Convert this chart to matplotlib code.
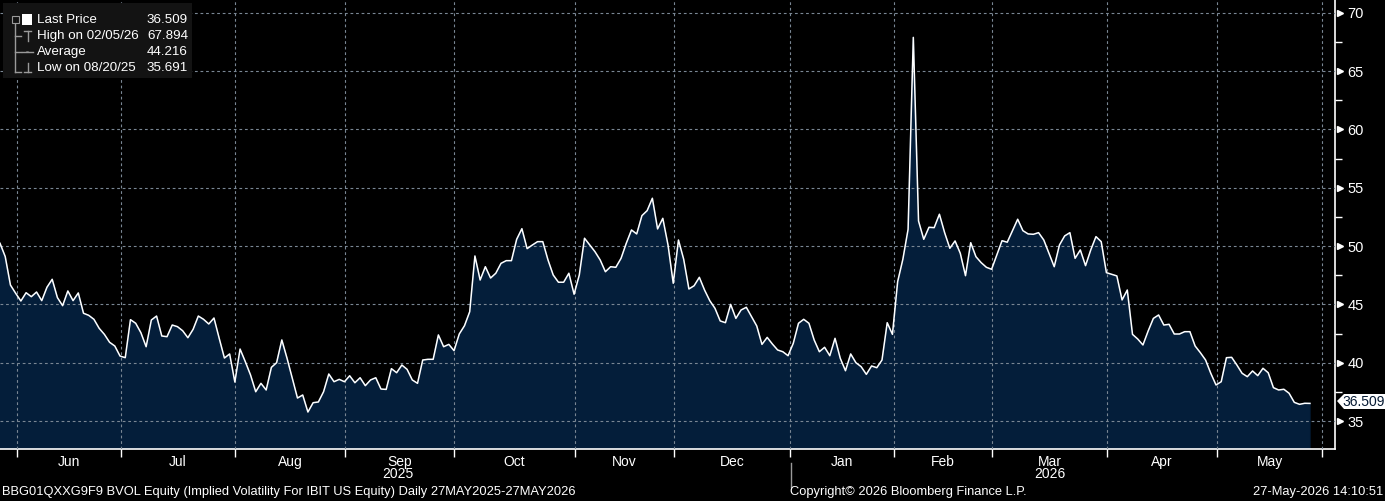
"""
IBIT implied volatility (BVOL) - Bloomberg style area chart
"""
import matplotlib.pyplot as plt
from matplotlib.patches import Rectangle, Polygon, Circle
from matplotlib.lines import Line2D
import matplotlib.transforms as mtransforms
import numpy as np

# daily values, 27 May 2025 -> 27 May 2026
vol = [
    50.24, 49.10, 46.66, 45.95, 45.29, 46.00, 45.66, 46.06, 45.32, 46.47,
    47.15, 45.58, 44.89, 46.15, 45.32, 45.98, 44.24, 44.06, 43.72, 42.95,
    42.43, 41.75, 41.43, 40.57, 40.43, 43.69, 43.38, 42.57, 41.37, 43.66,
    44.00, 42.29, 42.23, 43.23, 43.09, 42.74, 42.14, 42.86, 44.00, 43.72,
    43.32, 43.83, 42.09, 40.40, 40.75, 38.34, 41.17, 40.09, 38.95, 37.51,
    38.23, 37.66, 39.60, 40.00, 41.95, 40.38, 38.66, 36.97, 37.23, 35.77,
    36.57, 36.63, 37.51, 39.03, 38.37, 38.57, 38.37, 38.88, 38.28, 38.71,
    38.03, 38.52, 38.71, 37.74, 37.71, 39.49, 39.14, 39.80, 39.43, 38.52,
    38.23, 40.23, 40.29, 40.29, 42.38, 41.37, 41.57, 41.03,
    42.46, 43.17, 44.37, 49.15, 47.09, 48.23, 47.26, 47.67, 48.52, 48.75,
    48.75, 50.58, 51.49, 49.78, 50.09, 50.38, 50.38, 48.81, 47.52, 46.90,
    46.90, 47.67, 45.87, 47.52, 50.67, 50.09, 49.52, 48.81, 47.80, 48.23,
    48.18, 48.95, 50.24, 51.38, 51.04, 52.61, 53.04, 54.10, 51.47, 52.38,
    50.09, 46.81, 50.52, 48.87, 46.32, 46.60, 47.32, 46.23, 45.32, 44.66,
    43.58, 43.43, 45.00, 43.80, 44.52, 44.75, 43.95, 43.15, 41.57, 42.17,
    41.60, 41.09, 40.94, 40.60, 41.66, 43.38, 43.72, 43.38, 41.95, 40.94,
    41.32, 40.60, 42.09, 40.38, 39.31, 40.75, 40.00,
    39.66, 39.00, 39.72, 39.57, 40.23, 43.43, 42.43, 46.95, 48.87, 51.44,
    67.894, 52.15, 50.58, 51.61, 51.58, 52.73, 51.15, 49.81, 50.44, 49.38,
    47.46, 50.29, 49.09, 48.58, 48.18, 48.01, 49.24, 50.46, 50.33, 51.32,
    52.30, 51.32, 51.04, 51.01, 51.15, 50.52, 49.38, 48.23, 50.09, 50.87,
    51.15, 48.95, 49.67, 48.32, 49.67, 50.81, 50.38, 47.72, 47.58, 47.44,
    45.38, 46.23, 42.43, 42.03, 41.52, 42.72, 43.80, 44.09, 43.23, 43.29,
    42.46, 42.46, 42.66, 42.66, 41.43, 40.86, 40.23, 39.09, 38.09, 38.37,
    40.43, 40.46, 39.80, 39.09, 38.80, 39.29, 38.89, 39.52, 39.14, 37.86,
    37.66, 37.72, 37.38, 36.60, 36.43, 36.52, 36.509,
]
months = ['Jun', 'Jul', 'Aug', 'Sep', 'Oct', 'Nov', 'Dec', 'Jan', 'Feb', 'Mar', 'Apr', 'May']
# month boundaries in trading-day index
month_edges = [3.2, 23.1, 45.0, 66.1, 87.0, 110.2, 129.1, 151.4, 171.3, 190.1, 212.1, 233.2, 253.3]
legend_rows = [
    ('Last Price', '36.509'),
    ('High on 02/05/26', '67.894'),
    ('Average', '44.216'),
    ('Low on 08/20/25', '35.691'),
]
footer_left = 'BBG01QXXG9F9 BVOL Equity (Implied Volatility For IBIT US Equity) Daily 27MAY2025-27MAY2026'
footer_mid = 'Copyright\u00a9 2026 Bloomberg Finance L.P.'
footer_right = '27-May-2026 14:10:51'

C = {'bg': '#000000', 'fill': '#041e3a', 'line': '#ffffff', 'grid': '#7a8794',
     'text': '#ffffff', 'box': '#131313', 'icon': '#9a9a9a'}
W, H = 1385, 501
FONT = ['Liberation Sans', 'DejaVu Sans']

plt.rcParams.update({'font.family': FONT, 'font.size': 9.5, 'text.color': C['text']})

fig = plt.figure(figsize=(W / 100, H / 100), dpi=100, facecolor=C['bg'])
ax = fig.add_axes([0, (H - 449) / H, 1335 / W, 449 / H])
ax.set_facecolor(C['bg'])


def px(x, y):
    return x / W, (H - y) / H


x = np.arange(len(vol))
ax.fill_between(x, vol, 0, color=C['fill'], zorder=1)
ax.plot(x, vol, color=C['line'], lw=1.1, zorder=3)
ax.set_xlim(0, 255.8)
ax.set_ylim(32.6, 71.1)

for s in ['left', 'top']:
    ax.spines[s].set_visible(False)
for s in ['right', 'bottom']:
    ax.spines[s].set_color('white'); ax.spines[s].set_linewidth(1.2)

# x axis: month boundaries (ticks + grid) and month names centred
ax.set_xticks(month_edges)
ax.set_xticklabels([])
centers = [(a + b) / 2 for a, b in zip(month_edges[:-1], month_edges[1:])]
ax.set_xticks(centers, minor=True)
ax.set_xticklabels(months, minor=True)
ax.tick_params(axis='x', which='major', direction='out', length=6, color='white', width=1)
ax.tick_params(axis='x', which='minor', length=0, pad=4, labelcolor=C['text'], labelsize=10)

# y axis on the right
ax.yaxis.tick_right()
ax.set_yticks(np.arange(35, 71, 5))
ax.set_yticks(np.arange(37.5, 71, 5), minor=True)
ax.tick_params(axis='y', which='major', length=0, pad=9, labelcolor=C['text'], labelsize=10.5)
ax.tick_params(axis='y', which='minor', direction='out', length=5, color='white', width=1)
trans = mtransforms.blended_transform_factory(ax.transAxes, ax.transData)
for v in np.arange(35, 71, 5):
    ax.plot([1.0035], [v], marker='>', ms=5, color='white', transform=trans, clip_on=False, zorder=5)

ax.grid(True, which='major', color=C['grid'], lw=0.8, linestyle=(0, (2.5, 2.5)), zorder=2)
ax.set_axisbelow(False)

# last price tag
tag = Polygon([px(1337, 401), px(1344, 394), px(1385, 394), px(1385, 409), px(1344, 409)],
              closed=True, transform=fig.transFigure, facecolor='white', edgecolor='none')
fig.patches.append(tag)
fig.text(*px(1364, 401.5), '36.509', ha='center', va='center', color='#061a33', fontsize=10)

# legend box
fig.patches.append(Rectangle(px(3, 78), 189 / W, 75 / H, transform=fig.transFigure,
                             facecolor=C['box'], edgecolor='none', zorder=5))
rows_y = [20, 36, 52, 68]
tf = fig.transFigure


def seg(x0, y0, x1, y1, color=C['icon'], lw=1):
    fig.lines.append(Line2D([x0 / W, x1 / W], [(H - y0) / H, (H - y1) / H], transform=tf,
                            color=color, lw=lw, zorder=6))


# tree lines
seg(15, 22, 15, 72)
for y in rows_y[1:]:
    yy = y + 4 if y == 68 else y
    seg(15, yy, 21, yy)
fig.patches.append(Rectangle(px(11.5, 23), 7 / W, 7 / H, transform=tf, facecolor=C['box'],
                             edgecolor=C['icon'], lw=0.8, zorder=7))
seg(13, 19.5, 17, 19.5, lw=0.8)
fig.patches.append(Rectangle(px(22, 25), 10 / W, 11 / H, transform=tf, facecolor='white',
                             edgecolor='none', zorder=7))
seg(24, 31, 31, 31); seg(27.5, 31, 27.5, 41)
seg(22, 52, 33, 52)
fig.patches.append(Circle(px(27.5, 52), 1.6 / W, transform=tf, facecolor=C['icon'], edgecolor='none', zorder=7))
seg(27.5, 63, 27.5, 72); seg(24, 72, 31, 72)
for (lab, val), y in zip(legend_rows, rows_y):
    fig.text(*px(37, y), lab, ha='left', va='center', fontsize=9.6, color=C['text'], zorder=8)
    fig.text(*px(188, y), val, ha='right', va='center', fontsize=9.6, color=C['text'], zorder=8)

# year labels / separator
fig.text(*px(398, 474), '2025', ha='center', va='center', fontsize=10)
fig.text(*px(1050, 474), '2026', ha='center', va='center', fontsize=10)
fig.lines.append(Line2D([790.5 / W] * 2, [(H - 463) / H, (H - 487) / H], transform=tf, color='#9a9a9a', lw=1))

# footer
fig.text(*px(2, 492), footer_left, ha='left', va='center', fontsize=9.3)
fig.text(*px(790, 492), footer_mid, ha='left', va='center', fontsize=9.3)
fig.text(*px(1383, 492), footer_right, ha='right', va='center', fontsize=9.3)

fig.savefig('out.png', dpi=100, facecolor=C['bg'])
